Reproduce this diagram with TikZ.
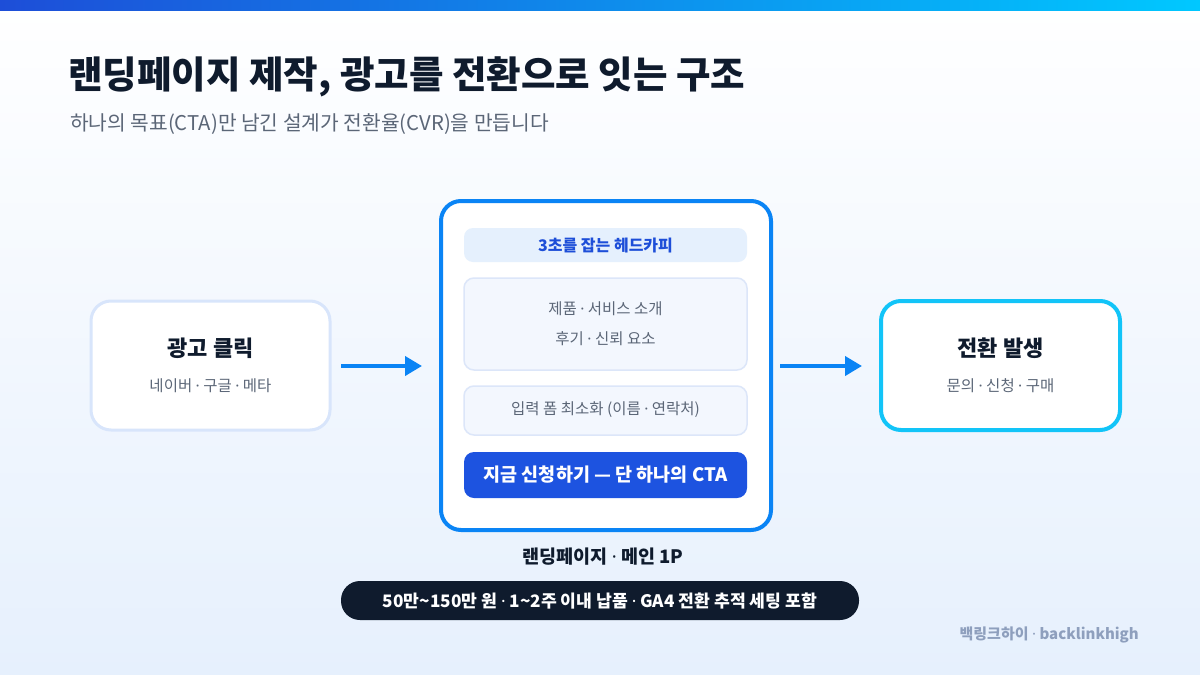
\documentclass[tikz,border=0pt]{standalone}
\usepackage{fontspec}
\setmainfont{Noto Sans CJK KR}
\newfontfamily\blackfont{Noto Sans CJK KR Black}
\newfontfamily\dotfont{Noto Sans}
\newcommand\md{{\dotfont ·}}
\usetikzlibrary{arrows.meta}
\definecolor{navy}{HTML}{0F1B2D}
\definecolor{subgray}{HTML}{5B6677}
\definecolor{arrowblue}{HTML}{0A84F5}
\definecolor{ctablue}{HTML}{1D53E0}
\definecolor{headblue}{HTML}{1D4ED8}
\definecolor{headfill}{HTML}{E5F0FD}
\definecolor{innerfill}{HTML}{F3F7FE}
\definecolor{innerline}{HTML}{DCE6F9}
\definecolor{leftline}{HTML}{D8E5FB}
\definecolor{cyanline}{HTML}{12C4F8}
\definecolor{footgray}{HTML}{8E9FBD}
\definecolor{bgtop}{HTML}{FFFFFF}
\definecolor{bgbot}{HTML}{E6F0FD}
\definecolor{barleft}{HTML}{1D4ED8}
\definecolor{barright}{HTML}{00C8FF}
\tikzset{
  sidebox/.style={rounded corners=20pt, fill=white, line width=3pt},
  innerbox/.style={rounded corners=10pt, fill=innerfill, draw=innerline, line width=1.5pt},
  flow/.style={draw=arrowblue, line width=4pt, -{Triangle[length=17pt,width=19pt]}},
  boxtitle/.style={font=\bfseries\fontsize{22}{22}\selectfont, text=navy},
  boxsub/.style={font=\fontsize{15.5}{15.5}\selectfont, text=subgray},
  innertext/.style={font=\fontsize{15.5}{15.5}\selectfont, text=subgray}
}
\begin{document}
\begin{tikzpicture}[x=1pt,y=-1pt]
\useasboundingbox (0,0) rectangle (1200,675);
\shade[top color=bgtop, bottom color=bgbot] (0,0) rectangle (1200,675);
\shade[left color=barleft, right color=barright] (0,0) rectangle (1200,10);

\node[anchor=west, inner sep=0, text=navy, font=\blackfont\fontsize{37.5}{37.5}\selectfont] (title) at (68,77) {랜딩페이지 제작, 광고를 전환으로 잇는 구조};
\node[anchor=west, inner sep=0, text=subgray, font=\fontsize{20.3}{20.3}\selectfont] (subtitle) at (70,124) {하나의 목표(CTA)만 남긴 설계가 전환율(CVR)을 만듭니다};

% left box
\draw[sidebox, draw=leftline] (91,301) rectangle (330,430);
\node[boxtitle] (ltitle) at (210.5,348) {광고 클릭};
\node[boxsub] (lsub) at (210.5,386) {네이버 \md{} 구글 \md{} 메타};

% center box
\draw[rounded corners=20pt, fill=white, draw=arrowblue, line width=4pt] (441,201) rectangle (771,530);
\fill[headfill, rounded corners=9pt] (464,228) rectangle (747,262);
\node[text=headblue, font=\bfseries\fontsize{16}{16}\selectfont] (head) at (605.5,245) {3초를 잡는 헤드카피};
\draw[innerbox] (464,278) rectangle (747,370);
\node[innertext] (t1) at (605.5,309) {제품 \md{} 서비스 소개};
\node[innertext] (t2) at (605.5,339) {후기 \md{} 신뢰 요소};
\draw[innerbox] (464,386) rectangle (747,435);
\node[innertext] (t3) at (605.5,410) {입력 폼 최소화 (이름 \md{} 연락처)};
\fill[ctablue, rounded corners=10pt] (464,452) rectangle (747,498);
\node[text=white, font=\bfseries\fontsize{18.5}{18.5}\selectfont] (cta) at (605.5,475) {지금 신청하기 — 단 하나의 CTA};
\node[text=navy, font=\bfseries\fontsize{18.5}{18.5}\selectfont] (clabel) at (603,557) {랜딩페이지 \md{} 메인 1P};

% right box
\draw[sidebox, draw=cyanline, line width=4pt] (881,301) rectangle (1120,430);
\node[boxtitle] (rtitle) at (1000.5,348) {전환 발생};
\node[boxsub] (rsub) at (1000.5,386) {문의 \md{} 신청 \md{} 구매};

% arrows
\coordinate (a1s) at (341,366);
\coordinate (a1e) at (422,366);
\coordinate (a2s) at (780,366);
\coordinate (a2e) at (862,366);
\draw[flow] (a1s) -- (a1e);
\draw[flow] (a2s) -- (a2e);

% bottom pill
\fill[navy, rounded corners=19pt] (341,581) rectangle (859,620);
\node[text=white, font=\bfseries\fontsize{17.2}{17.2}\selectfont] (price) at (600,601) {50만\textasciitilde150만 원 \md{} 1\textasciitilde2주 이내 납품 \md{} GA4 전환 추적 세팅 포함};

\node[anchor=east, text=footgray, font=\bfseries\fontsize{15}{15}\selectfont, inner sep=0] (foot) at (1139,635) {백링크하이 \md{} backlinkhigh};
\end{tikzpicture}
\end{document}
